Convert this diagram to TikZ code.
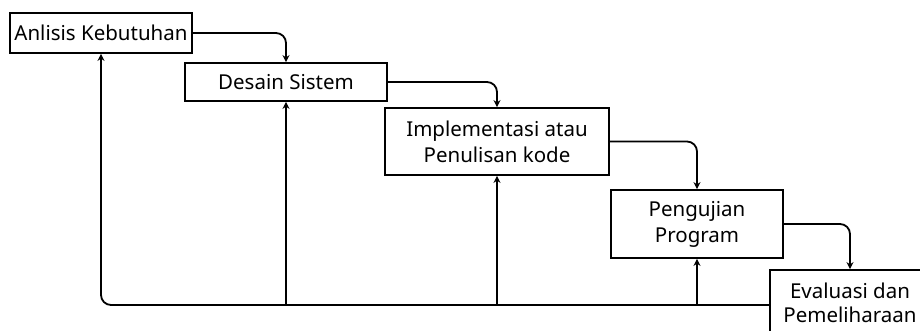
\documentclass[tikz,border=0pt]{standalone}
\usepackage{fontspec}
\setmainfont{Noto Sans}
\usetikzlibrary{arrows.meta}

\begin{document}
\begin{tikzpicture}[x=1pt, y=-1pt, line width=1.8pt,
    every node/.style={font=\fontsize{20.5}{26}\selectfont},
    tahap/.style={draw, rectangle, inner sep=0pt, align=center},
    alur/.style={-{Stealth[length=7pt,width=7pt]}, rounded corners=10pt}]
      \useasboundingbox (0,0) rectangle (920,331);
      \clip (0,0) rectangle (920,331);

      % tahapan waterfall
      \node[tahap, minimum width=182pt, minimum height=40pt] (analisis) at (101,33) {Anlisis Kebutuhan};
      \node[tahap, minimum width=202pt, minimum height=38pt] (desain) at (286,82) {Desain Sistem};
      \node[tahap, minimum width=224pt, minimum height=67pt] (implementasi) at (497,141.5) {Implementasi atau\\Penulisan kode};
      \node[tahap, minimum width=172pt, minimum height=68pt] (pengujian) at (697,224) {Pengujian\\Program};
      \node[tahap, minimum width=160pt, minimum height=66pt,
            font=\fontsize{20.5}{24}\selectfont] (evaluasi) at (850,303) {Evaluasi dan\\Pemeliharaan};

      % alur ke tahap berikutnya
      \draw[alur] (analisis.east) -| (desain.north);
      \draw[alur] (desain.east) -| (implementasi.north);
      \draw[alur] (implementasi.east) -| (pengujian.north);
      \draw[alur] (pengujian.east) -| (evaluasi.north);

      % umpan balik ke tahap sebelumnya
      \coordinate (balik) at (770,305);
      \draw[alur] (balik) -| (analisis.south);
      \draw[alur, rounded corners=0pt] (desain.south |- balik) -- (desain.south);
      \draw[alur, rounded corners=0pt] (implementasi.south |- balik) -- (implementasi.south);
      \draw[alur, rounded corners=0pt] (pengujian.south |- balik) -- (pengujian.south);
    \end{tikzpicture}
\end{document}
